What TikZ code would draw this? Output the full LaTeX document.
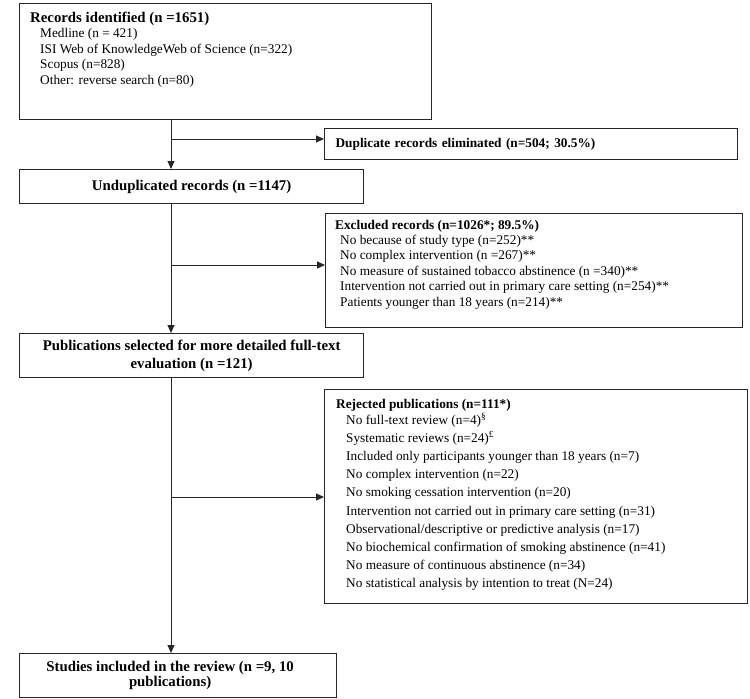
\documentclass[tikz,border=0pt]{standalone}
\usepackage{fontspec}
\setmainfont{Liberation Serif}
\usetikzlibrary{arrows.meta}
\tikzset{
  box/.style={draw=black!85, line width=1.25pt, inner sep=0pt, anchor=north west},
  arr/.style={draw=black!85, line width=1pt, -{Triangle[length=8pt,width=7pt]}},
  bighead/.style={font=\fontsize{14.8}{18.3}\selectfont\bfseries},
  head/.style={anchor=base west, inner sep=0pt, font=\fontsize{13.3}{15}\selectfont\bfseries},
  item/.style={anchor=base west, inner sep=0pt, font=\fontsize{13.3}{15}\selectfont}
}
\begin{document}
\begin{tikzpicture}[x=1pt,y=-1pt]
    \useasboundingbox (0,0) rectangle (750,699);
    % records identified
    \node[box, minimum width=412pt, minimum height=116pt] (rec) at (19,3) {};
    \node[head, bighead] (recT) at (30,22) {Records identified (n =1651)};
    \foreach \txt [count=\i] in {{Medline (n = 421)},{ISI Web of KnowledgeWeb of Science (n=322)},
        {Scopus (n=828)},{Other: reverse search (n=80)}}
        \node[item] (rec-\i) at (40,{37.5+15.6*(\i-1)}) {\txt};
    % duplicates
    \node[box, minimum width=413pt, minimum height=31pt, text width=391pt, inner xsep=11pt,
        align=left, font=\fontsize{13.3}{15}\selectfont\bfseries] (dup) at (324,128)
        {Duplicate records eliminated (n=504; 30.5\%)};
    % unduplicated
    \node[box, bighead, minimum width=344pt, minimum height=34pt, align=center] (undup) at (19,169)
        {Unduplicated records (n =1147)};
    % excluded records
    \node[box, minimum width=417pt, minimum height=114pt] (excl) at (325,213) {};
    \node[head] (exclT) at (335,229.5) {Excluded records (n=1026*; 89.5\%)};
    \foreach \txt [count=\i] in {{No because of study type (n=252)**},{No complex intervention (n =267)**},
        {No measure of sustained tobacco abstinence (n =340)**},
        {Intervention not carried out in primary care setting (n=254)**},
        {Patients younger than 18 years (n=214)**}}
        \node[item] (excl-\i) at (340,{244.5+15.4*(\i-1)}) {\txt};
    % full-text evaluation
    \node[box, bighead, minimum width=344pt, minimum height=44pt, align=center] (pub) at (19,333)
        {Publications selected for more detailed full-text\\evaluation (n =121)};
    % rejected publications
    \node[box, minimum width=423pt, minimum height=214pt] (rej) at (324,389) {};
    \node[head] (rejT) at (336,408.5) {Rejected publications (n=111*)};
    \foreach \txt [count=\i] in {{No full-text review (n=4)\textsuperscript{§}},
        {Systematic reviews (n=24)\textsuperscript{£}},
        {Included only participants younger than 18 years (n=7)},
        {No complex intervention (n=22)},{No smoking cessation intervention (n=20)},
        {Intervention not carried out in primary care setting (n=31)},
        {Observational/descriptive or predictive analysis (n=17)},
        {No biochemical confirmation of smoking abstinence (n=41)},
        {No measure of continuous abstinence (n=34)},
        {No statistical analysis by intention to treat (N=24)}}
        \node[item] (rej-\i) at (346,{424.5+18.1*(\i-1)}) {\txt};
    % studies included
    \node[box, minimum width=317pt, minimum height=44pt] (incl) at (19,653) {};
    \node[bighead, align=center, font=\fontsize{14.8}{15.5}\selectfont\bfseries] (inclT)
        at ([xshift=-8pt]incl.center) {Studies included in the review (n =9, 10\\publications)};
    % connectors
    \coordinate (s1) at (171,139);
    \coordinate (s2) at (171,265);
    \coordinate (s3) at (171,497);
    \draw[arr] (rec.south -| s1) -- (undup.north -| s1);
    \draw[arr] (s1) -- (dup.west |- s1);
    \draw[arr] (undup.south -| s2) -- (pub.north -| s2);
    \draw[arr] (s2) -- (excl.west |- s2);
    \draw[arr] (pub.south -| s3) -- (incl.north -| s3);
    \draw[arr] (s3) -- (rej.west |- s3);
\end{tikzpicture}
\end{document}
